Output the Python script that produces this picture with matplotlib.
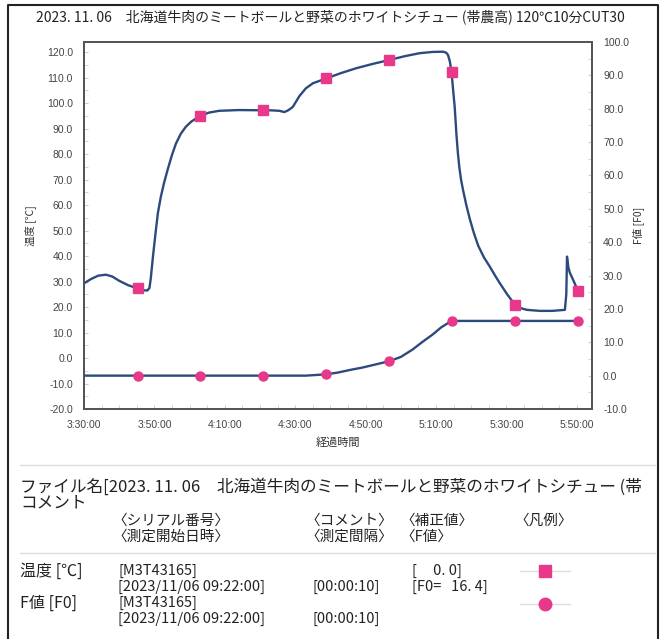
# 温度とF値の記録グラフ
import matplotlib
matplotlib.use("Agg")
import matplotlib.pyplot as plt
from matplotlib.lines import Line2D
from matplotlib.ticker import MultipleLocator

plt.rcParams["font.family"] = ["Noto Sans CJK JP", "DejaVu Sans"]

# 経過時間は 3:30:00 からの分
temp_t = [0.0, 2.0, 4.0, 6.2, 8.0, 10.0, 12.5, 15.2, 17.0, 18.0, 18.6, 19.0,
          19.6, 20.4, 21.0, 21.8, 22.7, 23.7, 24.9, 26.1, 27.5, 28.9, 30.5,
          33.0, 35.5, 38.4, 44.0, 50.7, 53.0, 55.5, 56.9, 58.0, 59.3, 61.2,
          63.0, 65.0, 68.8, 73.0, 77.3, 82.0, 86.6, 91.0, 95.3, 99.0, 102.0,
          102.9, 103.4, 103.9, 104.4, 104.8, 105.3, 105.8, 106.2, 106.6,
          107.1, 107.7, 108.6, 109.6, 110.8, 112.0, 113.6, 115.3, 116.7,
          118.1, 120.2, 122.4, 124.0, 125.8, 129.5, 133.0, 136.6, 137.0,
          137.2, 137.6, 138.0, 139.0, 140.3, 140.8]
temp_v = [29.3, 31.0, 32.3, 32.7, 32.0, 30.3, 28.6, 27.3, 26.6, 26.5, 27.5,
          31.6, 40.0, 50.0, 57.0, 63.1, 68.5, 73.6, 79.3, 84.1, 88.0, 90.7,
          92.8, 95.0, 96.3, 97.0, 97.3, 97.2, 97.2, 97.0, 96.5, 97.2, 98.5,
          102.8, 105.8, 107.8, 109.7, 111.8, 113.7, 115.4, 116.9, 118.4,
          119.6, 120.1, 120.2, 119.8, 118.9, 116.5, 112.3, 106.0, 98.5, 87.5,
          80.5, 75.0, 70.0, 65.7, 60.0, 54.5, 48.8, 44.0, 39.5, 35.8, 32.5,
          29.4, 25.0, 20.9, 19.6, 18.9, 18.5, 18.5, 18.9, 25.0, 39.8, 35.5,
          33.5, 30.5, 26.4, 25.0]

f0_t = [0.0, 63.0, 66.0, 68.7, 72.0, 76.0, 79.0, 83.0, 86.6, 90.0, 93.3,
        96.0, 99.0, 101.5, 104.4, 140.2]
f0_v = [0.0, 0.0, 0.2, 0.4, 0.9, 1.8, 2.4, 3.4, 4.3, 5.6, 7.8, 10.0, 12.3,
        14.5, 16.4, 16.4]

mark_t = [15.2, 33.0, 50.8, 68.7, 86.6, 104.4, 122.3, 140.2]
mark_temp = [27.3, 95.0, 97.2, 109.7, 116.9, 112.3, 20.9, 26.4]
mark_f0 = [0.0, 0.0, 0.0, 0.4, 4.3, 16.4, 16.4, 16.4]

xtick_pos = [0, 20, 40, 60, 80, 100, 120, 140]
xtick_lab = ["3:30:00", "3:50:00", "4:10:00", "4:30:00", "4:50:00",
             "5:10:00", "5:30:00", "5:50:00"]

line_c = "#2d4a7c"
mark_c = "#e8388a"
tick_c = "#444444"

W, H = 664, 639
fig = plt.figure(figsize=(W / 100, H / 100), dpi=100)

def fx(px):
    return px / W

def fy(py):
    return 1 - py / H

ax = fig.add_axes([fx(84), fy(409), fx(592) - fx(84), fy(42) - fy(409)])
ax2 = ax.twinx()

ax.plot(temp_t, temp_v, color=line_c, lw=1.7, zorder=3)
ax.plot(mark_t, mark_temp, ls="none", marker="s", ms=6.5, color=mark_c, zorder=4)
ax2.plot(f0_t, f0_v, color=line_c, lw=1.7, zorder=3)
ax2.plot(mark_t, mark_f0, ls="none", marker="o", ms=6.5, color=mark_c, zorder=4)

ax.set_xlim(0, 144.3)
ax.set_ylim(-20, 124)
ax2.set_ylim(-10, 100)

ax.set_xticks(xtick_pos)
ax.set_xticklabels(xtick_lab)
ax.xaxis.set_minor_locator(MultipleLocator(5))
ax.yaxis.set_major_locator(MultipleLocator(10))
ax.yaxis.set_minor_locator(MultipleLocator(5))
ax2.yaxis.set_major_locator(MultipleLocator(10))
ax2.yaxis.set_minor_locator(MultipleLocator(5))
ax.yaxis.set_major_formatter(lambda v, p: f"{v:.1f}")
ax2.yaxis.set_major_formatter(lambda v, p: f"{v:.1f}")

for a in (ax, ax2):
    a.tick_params(which="both", direction="in", color="#cccccc", length=3,
                  labelsize=7.5, labelcolor=tick_c, pad=8)
    for lab in a.get_yticklabels() + a.get_xticklabels():
        lab.set_family("Liberation Sans")
    for s in a.spines.values():
        s.set_color("#555555")
        s.set_linewidth(1.4)

ax.set_ylabel("温度 [℃]", fontsize=7.5, color="#333333", labelpad=8)
ax2.set_ylabel("F値 [F0]", fontsize=7.5, color="#333333", labelpad=2)
ax.set_xlabel("経過時間", fontsize=8, color="#333333", labelpad=5)

fig.text(fx(330), fy(17), "2023. 11. 06　北海道牛肉のミートボールと野菜のホワイトシチュー (帯農高) 120℃10分CUT30",
         ha="center", va="center", fontsize=10, color="#222222")

# 枠線
fig.add_artist(Line2D([fx(8), fx(8), fx(658), fx(658)], [0, fy(5), fy(5), 0],
                      color="#222222", lw=1.5))
for yy in (465, 553):
    fig.add_artist(Line2D([fx(20), fx(655)], [fy(yy), fy(yy)], color="#dddddd", lw=1))

# 下部の情報欄
def put(px, py, s, size=10.5):
    fig.text(fx(px), fy(py), s, ha="left", va="center", fontsize=size,
             color="#222222")

put(20, 487, "ファイル名[2023. 11. 06　北海道牛肉のミートボールと野菜のホワイトシチュー (帯", 12)
put(20, 503, "コメント", 12)
put(112, 521, "〈シリアル番号〉", 10.5)
put(305, 521, "〈コメント〉", 10.5)
put(400, 521, "〈補正値〉", 10.5)
put(514, 521, "〈凡例〉", 10.5)
put(112, 537, "〈測定開始日時〉", 10.5)
put(305, 537, "〈測定間隔〉", 10.5)
put(400, 537, "〈F値〉", 10.5)

put(20, 571, "温度 [℃]", 11.5)
put(118, 571, "[M3T43165]")
put(412, 571, "[     0. 0]")
put(118, 587, "[2023/11/06 09:22:00]")
put(312, 587, "[00:00:10]")
put(412, 587, "[F0=   16. 4]")
put(20, 603, "F値 [F0]", 11.5)
put(118, 603, "[M3T43165]")
put(118, 619, "[2023/11/06 09:22:00]")
put(312, 619, "[00:00:10]")

for py, mk in ((571, "s"), (604, "o")):
    fig.add_artist(Line2D([fx(520), fx(570)], [fy(py), fy(py)], color="#dddddd", lw=1))
    fig.add_artist(Line2D([fx(545)], [fy(py)], marker=mk, ms=9, color=mark_c, ls="none"))

fig.savefig("out.png", dpi=100)
